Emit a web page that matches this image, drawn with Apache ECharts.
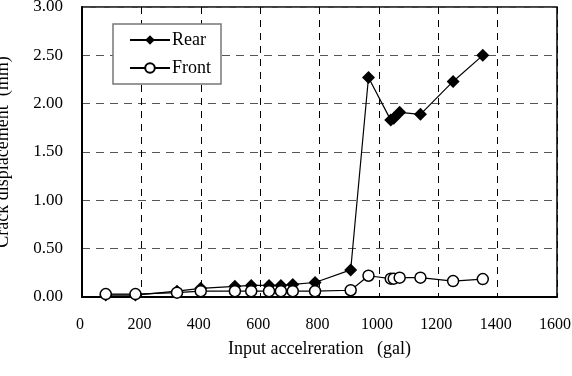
<!DOCTYPE html>
<html>
<head>
<meta charset="utf-8">
<script src="https://cdn.jsdelivr.net/npm/echarts@6/dist/echarts.min.js"></script>
<style>
  html, body { margin: 0; padding: 0; background: #fff; }
  #crack-chart { width: 572px; height: 376px; }
</style>
</head>
<body>
<div id="crack-chart"></div>
<script>
// input acceleration (gal)
const accel = [80, 180, 320, 400, 515, 570, 630, 670, 710, 785, 905, 965, 1040, 1050, 1070, 1140, 1250, 1350];
// crack displacement (mm)
const rear = [0.02, 0.02, 0.06, 0.09, 0.11, 0.12, 0.12, 0.12, 0.13, 0.15, 0.28, 2.27, 1.83, 1.85, 1.91, 1.89, 2.23, 2.50];
const front = [0.03, 0.03, 0.045, 0.06, 0.06, 0.06, 0.06, 0.06, 0.06, 0.06, 0.07, 0.22, 0.19, 0.19, 0.20, 0.20, 0.165, 0.185];
const seriesNames = ['Rear', 'Front'];

const font = 'Liberation Serif, Times New Roman, serif';

function pairs(ys) {
  return accel.map((x, i) => [x, ys[i]]);
}

const myChart = echarts.init(document.getElementById('crack-chart'));
const options = {
  animation: false,
  textStyle: { fontFamily: font, color: '#000' },
  grid: {
    left: 82,
    right: 15,
    top: 7,
    bottom: 79,
    outerBoundsMode: 'none',
    containLabel: false,
    show: true,
    borderColor: '#000',
    borderWidth: 1.5,
    backgroundColor: 'transparent',
  },
  legend: {
    data: seriesNames,
    orient: 'vertical',
    left: 113,
    top: 24,
    backgroundColor: '#fff',
    borderColor: '#777',
    borderWidth: 1.5,
    padding: [7, 10, 7, 16],
    itemWidth: 40,
    itemHeight: 12,
    itemGap: 10,
    textStyle: { fontFamily: font, fontSize: 18, color: '#000', padding: [0, 0, 0, -3] },
  },
  xAxis: {
    type: 'value',
    min: 0,
    max: 1600,
    interval: 200,
    name: 'Input accelreration   (gal)',
    nameLocation: 'middle',
    nameGap: 43,
    nameTextStyle: { fontFamily: font, fontSize: 18, color: '#000' },
    axisLine: { show: true, lineStyle: { color: '#000', width: 2 } },
    axisTick: { show: false },
    axisLabel: {
      margin: 20,
      fontFamily: font,
      fontSize: 16,
      color: '#000',
      padding: [0, 4, 0, 0],
      formatter: (v) => String(v),
    },
    splitLine: { show: true, lineStyle: { color: '#000', width: 1, type: [7, 6] } },
  },
  yAxis: {
    type: 'value',
    min: 0,
    max: 3,
    interval: 0.5,
    name: 'Crack displacement  (mm)',
    nameLocation: 'middle',
    nameGap: 70,
    nameTextStyle: { fontFamily: font, fontSize: 18, color: '#000' },
    axisLine: { show: true, lineStyle: { color: '#000', width: 2 } },
    axisTick: { show: false },
    axisLabel: {
      margin: 19,
      fontFamily: font,
      fontSize: 17,
      color: '#000',
      formatter: (v) => v.toFixed(2),
    },
    splitLine: { show: true, lineStyle: { color: '#555', width: 1, type: [8, 6] } },
  },
  series: [
    {
      name: seriesNames[0],
      type: 'line',
      data: pairs(rear),
      symbol: 'diamond',
      symbolSize: 13,
      itemStyle: { color: '#000' },
      lineStyle: { color: '#000', width: 1.2 },
    },
    {
      name: seriesNames[1],
      type: 'line',
      data: pairs(front),
      symbol: 'circle',
      symbolSize: 11,
      itemStyle: { color: '#fff', borderColor: '#000', borderWidth: 1.5 },
      lineStyle: { color: '#000', width: 1.2 },
    },
  ],
};
myChart.setOption(options);
</script>
</body>
</html>
